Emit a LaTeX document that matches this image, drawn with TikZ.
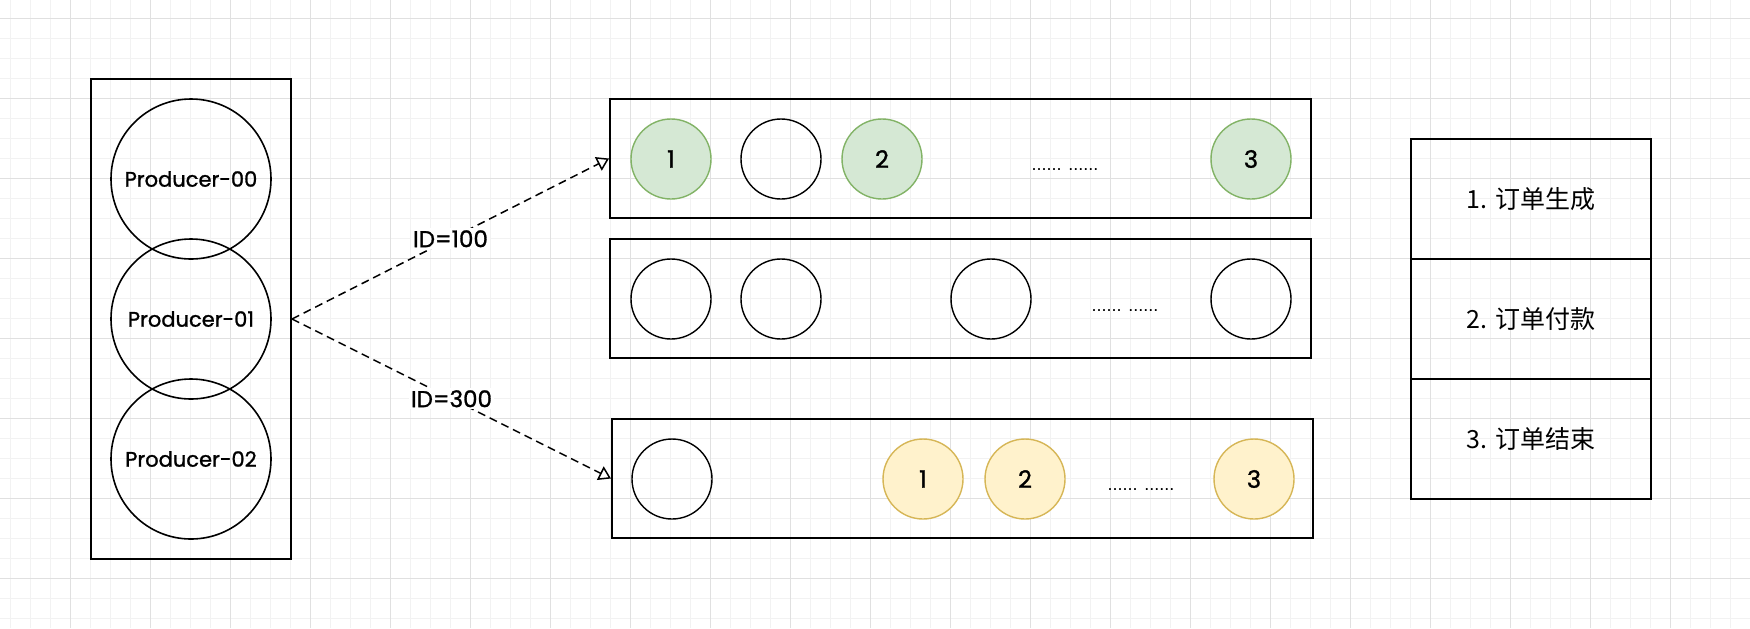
\documentclass[tikz,border=0pt]{standalone}
\usepackage{fontspec}
\setmainfont{Poppins}
\newfontfamily\comic[FakeBold=1.2]{Poppins}
\newfontfamily\cjk{Noto Sans CJK SC}
\newfontfamily\helv{Liberation Sans}
\usetikzlibrary{arrows.meta}
\definecolor{gfill}{HTML}{D5E8D4}
\definecolor{gline}{HTML}{82B366}
\definecolor{yfill}{HTML}{FFF2CC}
\definecolor{yline}{HTML}{D6B656}
\definecolor{gridmin}{HTML}{F2F2F2}
\definecolor{gridmaj}{HTML}{E0E0E0}
\tikzset{prod/.style={circle, draw, line width=0.8pt, minimum size=80pt, inner sep=0pt, font=\comic\fontsize{10.5}{13}\selectfont}}
\tikzset{msg/.style={circle, draw, line width=0.7pt, minimum size=40pt, inner sep=0pt, font=\comic\fontsize{12}{14}\selectfont}}
\tikzset{msgG/.style={msg, draw=gline, fill=gfill}}
\tikzset{msgY/.style={msg, draw=yline, fill=yfill}}
\tikzset{queue/.style={draw, line width=1pt, minimum width=350.5pt, minimum height=59.5pt, inner sep=0pt}}
\tikzset{stepcell/.style={draw, line width=1pt, minimum width=120pt, minimum height=60pt, inner sep=0pt, font=\cjk\fontsize{12.5}{14}\selectfont}}
\tikzset{dots/.style={anchor=base, inner sep=0pt, font=\helv\fontsize{9}{10}\selectfont}}
\tikzset{flow/.style={line width=0.75pt, dash pattern=on 4pt off 2.5pt, -{Triangle[open, length=6pt, width=7.5pt]}}}
\tikzset{lbl/.style={fill=white, inner sep=1pt, font=\comic\fontsize{11.5}{13}\selectfont}}

\begin{document}
\begin{tikzpicture}[x=0.5pt,y=-0.5pt]
\useasboundingbox (0,0) rectangle (1750,628);
\fill[white] (0,0) rectangle (1750,628);
\draw[gridmin, line width=0.5pt]
\foreach \x in {10,30,...,1750}{(\x,0)--(\x,628)}
\foreach \y in {18,38,...,628}{(0,\y)--(1750,\y)}
;
\draw[gridmaj, line width=0.5pt]
\foreach \x in {70,150,...,1750}{(\x,0)--(\x,628)}
\foreach \y in {18,98,...,628}{(0,\y)--(1750,\y)}
;

\node[draw, line width=1pt, minimum width=100pt, minimum height=240pt, inner sep=0pt] (prodbox) at (191,319) {};
\node[prod] (p0) at (191,179) {Producer-00};
\node[prod] (p1) at (191,319) {Producer-01};
\node[prod] (p2) at (191,459) {Producer-02};

\node[queue] (qtop) at (960.5,158.5) {};
\node[queue] (qmid) at (960.5,298.5) {};
\node[queue] (qbot) at (962.5,478.5) {};

\node[msgG] (t1) at (671,159) {1};
\node[msg] (t0) at (781,159) {};
\node[msgG] (t2) at (882,159) {2};
\node[msgG] (t3) at (1251,159) {3};
\node[dots] (tdots) at (1065,170) {...... ......};

\foreach \x [count=\i] in {671,781,991,1251}{
\node[msg] (m\i) at (\x,299) {};
}
\node[dots] (mdots) at (1125,311) {...... ......};

\node[msg] (b0) at (672,479) {};
\node[msgY] (b1) at (923,479) {1};
\node[msgY] (b2) at (1025,479) {2};
\node[msgY] (b3) at (1254,479) {3};
\node[dots] (bdots) at (1141,490) {...... ......};

\draw[flow] (prodbox.east) -- node[lbl] (id1) {ID=100} (qtop.west);
\draw[flow] (prodbox.east) -- node[lbl] (id3) {ID=300} (qbot.west);

\node[stepcell] (s1) at (1531,199) {1. 订单生成};
\node[stepcell] (s2) at (1531,319) {2. 订单付款};
\node[stepcell] (s3) at (1531,439) {3. 订单结束};
\end{tikzpicture}
\end{document}
